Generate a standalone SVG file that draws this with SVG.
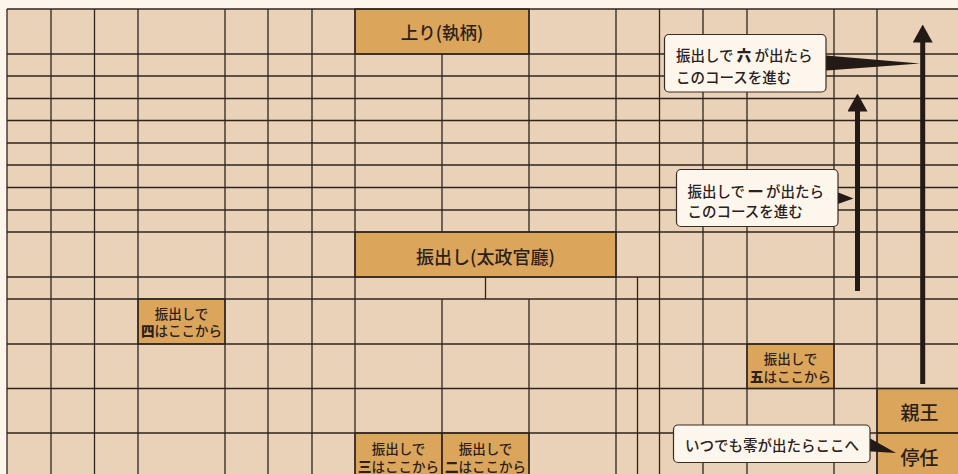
<svg xmlns="http://www.w3.org/2000/svg" width="958" height="474" viewBox="0 0 958 474">
<style>
.grid line{stroke:#2e241f;stroke-width:1.3}
.gold{fill:#dba65c;stroke:#2e241f;stroke-width:1.3}
.t{font-family:"Noto Sans CJK JP","Noto Sans",sans-serif;fill:#2a211c;dominant-baseline:central}
.big{font-size:17.5px;font-weight:500;text-anchor:middle}
.sm{font-size:13.5px;font-weight:500;text-anchor:middle}
.co{font-size:14.5px;font-weight:500}
.b{font-weight:900}
.callout{fill:#fdf6ec;stroke:#3a2c25;stroke-width:1.2}
.wedge{fill:#231a16}
.arrow{stroke:#231a16;stroke-width:5;fill:none}
</style>
<defs>
<marker id="ah" viewBox="0 0 18 20" refX="0.5" refY="10" markerWidth="18" markerHeight="20" markerUnits="userSpaceOnUse" orient="auto">
<path d="M0,0 L18,10 L0,20 z" fill="#231a16"/>
</marker>
</defs>
<rect width="958" height="474" fill="#fdf5eb"/>
<rect x="7" y="9" width="951" height="465" fill="#e9d2b7"/>
<g id="boxes">
<g id="agari"><rect class="gold" x="355" y="9" width="174" height="45"/><text class="t big" x="442" y="31">上り(執柄)</text></g>
<g id="furidashi"><rect class="gold" x="355" y="232" width="261" height="45"/><text class="t big" x="485.5" y="255.5" style="font-size:18px">振出し(太政官廳)</text></g>
<g id="start4"><rect class="gold" x="138" y="299" width="87" height="45"/><text class="t sm" x="181.5" y="313">振出しで</text><text class="t sm" x="181.5" y="330"><tspan class="b">四</tspan>はここから</text></g>
<g id="start5"><rect class="gold" x="747" y="344" width="87" height="44.5"/><text class="t sm" x="790.5" y="358">振出しで</text><text class="t sm" x="790.5" y="375.5"><tspan class="b">五</tspan>はここから</text></g>
<g id="start3"><rect class="gold" x="355" y="433" width="87" height="45"/><text class="t sm" x="398.5" y="448">振出しで</text><text class="t sm" x="398.5" y="465.5"><tspan class="b">三</tspan>はここから</text></g>
<g id="start2"><rect class="gold" x="442" y="433" width="87" height="45"/><text class="t sm" x="485.5" y="448">振出しで</text><text class="t sm" x="485.5" y="465.5"><tspan class="b">二</tspan>はここから</text></g>
<g id="shinno"><rect class="gold" x="877" y="388.5" width="85" height="44.5"/><text class="t big" x="919.5" y="411" style="font-size:19px">親王</text></g>
<g id="teinin"><rect class="gold" x="877" y="433" width="85" height="45"/><text class="t big" x="919.5" y="456" style="font-size:19px">停任</text></g>
</g>
<g class="grid" id="grid">
<line x1="7" y1="9" x2="958" y2="9"/>
<line x1="7" y1="54" x2="958" y2="54"/>
<line x1="7" y1="76" x2="958" y2="76"/>
<line x1="7" y1="98.5" x2="958" y2="98.5"/>
<line x1="7" y1="120.5" x2="958" y2="120.5"/>
<line x1="7" y1="143" x2="958" y2="143"/>
<line x1="7" y1="165" x2="958" y2="165"/>
<line x1="7" y1="187.5" x2="958" y2="187.5"/>
<line x1="7" y1="210" x2="958" y2="210"/>
<line x1="7" y1="232" x2="958" y2="232"/>
<line x1="7" y1="277" x2="958" y2="277"/>
<line x1="7" y1="299" x2="958" y2="299"/>
<line x1="7" y1="344" x2="958" y2="344"/>
<line x1="7" y1="388.5" x2="958" y2="388.5"/>
<line x1="7" y1="433" x2="958" y2="433"/>
<line x1="7" y1="9" x2="7" y2="474"/>
<line x1="51" y1="9" x2="51" y2="474"/>
<line x1="94.5" y1="9" x2="94.5" y2="474"/>
<line x1="138" y1="9" x2="138" y2="474"/>
<line x1="225" y1="9" x2="225" y2="474"/>
<line x1="268" y1="9" x2="268" y2="474"/>
<line x1="312" y1="9" x2="312" y2="474"/>
<line x1="355" y1="9" x2="355" y2="474"/>
<line x1="442" y1="54" x2="442" y2="232"/>
<line x1="442" y1="299" x2="442" y2="474"/>
<line x1="529" y1="9" x2="529" y2="232"/>
<line x1="529" y1="299" x2="529" y2="474"/>
<line x1="485.5" y1="277" x2="485.5" y2="299"/>
<line x1="616" y1="9" x2="616" y2="474"/>
<line x1="637.5" y1="277" x2="637.5" y2="474"/>
<line x1="659.5" y1="9" x2="659.5" y2="474"/>
<line x1="703" y1="9" x2="703" y2="474"/>
<line x1="747" y1="9" x2="747" y2="474"/>
<line x1="834" y1="9" x2="834" y2="474"/>
<line x1="877" y1="9" x2="877" y2="474"/>
</g>
<g id="connectors">
<path class="arrow" d="M857.5,291 V111" marker-end="url(#ah)"/>
<path class="arrow" d="M922.7,384 V42" marker-end="url(#ah)"/>
<polygon class="wedge" points="820,55 920,63.5 820,71"/>
<polygon class="wedge" points="832,190 853.5,198.5 832,206"/>
<polygon class="wedge" points="864,435 896,453 864,451"/>
</g>
<g id="callout6"><rect class="callout" x="664.5" y="34.5" width="161.5" height="57.5" rx="4.5"/><text class="t co" x="676" y="54">振出しで <tspan class="b">六</tspan> が出たら</text><text class="t co" x="676" y="76">このコースを進む</text></g>
<g id="callout1"><rect class="callout" x="676.5" y="169.5" width="161.5" height="57" rx="4.5"/><text class="t co" x="687.5" y="190">振出しで <tspan class="b">一</tspan> が出たら</text><text class="t co" x="687.5" y="210">このコースを進む</text></g>
<g id="callout0"><rect class="callout" x="673.5" y="425" width="196.5" height="37.5" rx="4.5"/><text class="t co" x="685" y="444">いつでも零が出たらここへ</text></g>
</svg>
